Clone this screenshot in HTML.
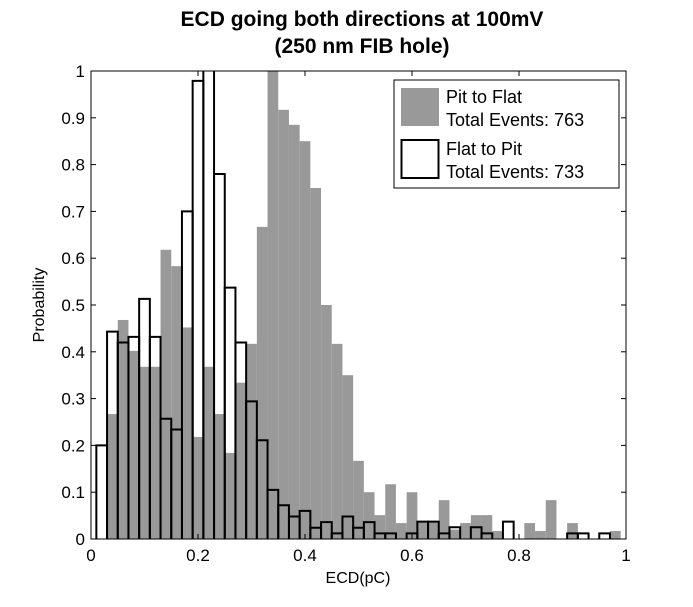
<!DOCTYPE html>
<html><head><meta charset="utf-8"><style>
body{margin:0;background:#fff;}
svg{display:block;font-family:"Liberation Sans",Arial,sans-serif;}
</style></head><body>
<svg id="chart" width="693" height="607">
<text x="362" y="26" font-size="21" font-weight="bold" text-anchor="middle">ECD going both directions at 100mV</text>
<text x="362" y="53" font-size="21" font-weight="bold" text-anchor="middle">(250 nm FIB hole)</text>
<g id="bars"></g>
<g id="axes"></g>
<text x="358" y="583" font-size="16" text-anchor="middle">ECD(pC)</text>
<text transform="translate(44,305) rotate(-90)" font-size="16" text-anchor="middle">Probability</text>
<g>
<rect x="394" y="80" width="225" height="108" fill="#fff" stroke="#000" stroke-width="1"/>
<rect x="401" y="88" width="38" height="38" fill="#999"/>
<text x="446" y="103" font-size="18">Pit to Flat</text>
<text x="446" y="126" font-size="18">Total Events: 763</text>
<rect x="401.5" y="140" width="37" height="38" fill="none" stroke="#000" stroke-width="2"/>
<text x="446" y="155" font-size="18">Flat to Pit</text>
<text x="446" y="178" font-size="18">Total Events: 733</text>
</g>
</svg>
<script>
const binCenters=[0.02,0.04,0.06,0.08,0.10,0.12,0.14,0.16,0.18,0.20,0.22,0.24,0.26,0.28,0.30,0.32,0.34,0.36,0.38,0.40,0.42,0.44,0.46,0.48,0.50,0.52,0.54,0.56,0.58,0.60,0.62,0.64,0.66,0.68,0.70,0.72,0.74,0.76,0.78,0.80,0.82,0.84,0.86,0.88,0.90,0.92,0.94,0.96,0.98];
const pitToFlat=[0,0.267,0.468,0.402,0.368,0.368,0.618,0.583,0.452,0.218,0.368,0.267,0.184,0.334,0.417,0.667,1.0,0.917,0.885,0.85,0.75,0.50,0.417,0.35,0.167,0.10,0.051,0.117,0.034,0.10,0.036,0.036,0.083,0.02,0.034,0.051,0.051,0.017,0,0,0.034,0.017,0.083,0,0.034,0,0,0,0.017];
const flatToPit=[0.20,0.443,0.42,0.432,0.513,0.432,0.257,0.234,0.70,0.979,1.08,0.78,0.537,0.42,0.294,0.211,0.105,0.072,0.048,0.06,0.024,0.036,0.012,0.048,0.024,0.036,0.012,0.012,0,0.012,0.037,0.037,0.012,0.025,0,0.025,0.012,0,0.037,0,0,0,0,0,0.012,0.012,0,0.012,0];
const xTicks=[0,0.2,0.4,0.6,0.8,1];
const xTickLabels=["0","0.2","0.4","0.6","0.8","1"];
const yTicks=[0,0.1,0.2,0.3,0.4,0.5,0.6,0.7,0.8,0.9,1];
const yTickLabels=["0","0.1","0.2","0.3","0.4","0.5","0.6","0.7","0.8","0.9","1"];
const binWidth=0.02;

const X0=91,X1=626,Y0=539,Y1=71;
const xs=v=>X0+(X1-X0)*v;
const ys=v=>Y0-(Y0-Y1)*Math.min(v,1.0);
const NS="http://www.w3.org/2000/svg";
const bars=document.getElementById('bars');
const axes=document.getElementById('axes');
function mk(tag,attrs,parent){const e=document.createElementNS(NS,tag);for(const k in attrs)e.setAttribute(k,attrs[k]);parent.appendChild(e);return e;}

pitToFlat.forEach((v,i)=>{
  if(v<=0)return;
  const x=xs(binCenters[i]-binWidth/2),w=xs(binCenters[i]+binWidth/2)-x;
  const r=mk('rect',{x:x,y:ys(v),width:w,height:Y0-ys(v),fill:'#999'},bars);
  
  
});
flatToPit.forEach((v,i)=>{
  if(v<=0)return;
  const x=xs(binCenters[i]-binWidth/2),w=xs(binCenters[i]+binWidth/2)-x;
  const d=v>1?`M${x},${Y0}V${Y1}M${x+w},${Y1}V${Y0}`:`M${x},${Y0}V${ys(v)}H${x+w}V${Y0}`;
  const p=mk('path',{d:d,fill:'none',stroke:'#000','stroke-width':2},bars);
  
  
});
const frame=mk('rect',{x:X0,y:Y1,width:X1-X0,height:Y0-Y1,fill:'none',stroke:'#000','stroke-width':1},axes);


xTicks.forEach((t,i)=>{
  const x=xs(t);
  mk('line',{x1:x,y1:Y0,x2:x,y2:Y0-5,stroke:'#000'},axes);
  mk('line',{x1:x,y1:Y1,x2:x,y2:Y1+5,stroke:'#000'},axes);
  const tx=mk('text',{x:x,y:Y0+22,'font-size':17,'text-anchor':'middle'},axes);
  tx.textContent=xTickLabels[i];
  
  
});
yTicks.forEach((t,i)=>{
  const y=ys(t);
  mk('line',{x1:X0,y1:y,x2:X0+5,y2:y,stroke:'#000'},axes);
  mk('line',{x1:X1,y1:y,x2:X1-5,y2:y,stroke:'#000'},axes);
  const tx=mk('text',{x:X0-6,y:y+6,'font-size':17,'text-anchor':'end'},axes);
  tx.textContent=yTickLabels[i];
  
  
});
</script>
</body></html>
